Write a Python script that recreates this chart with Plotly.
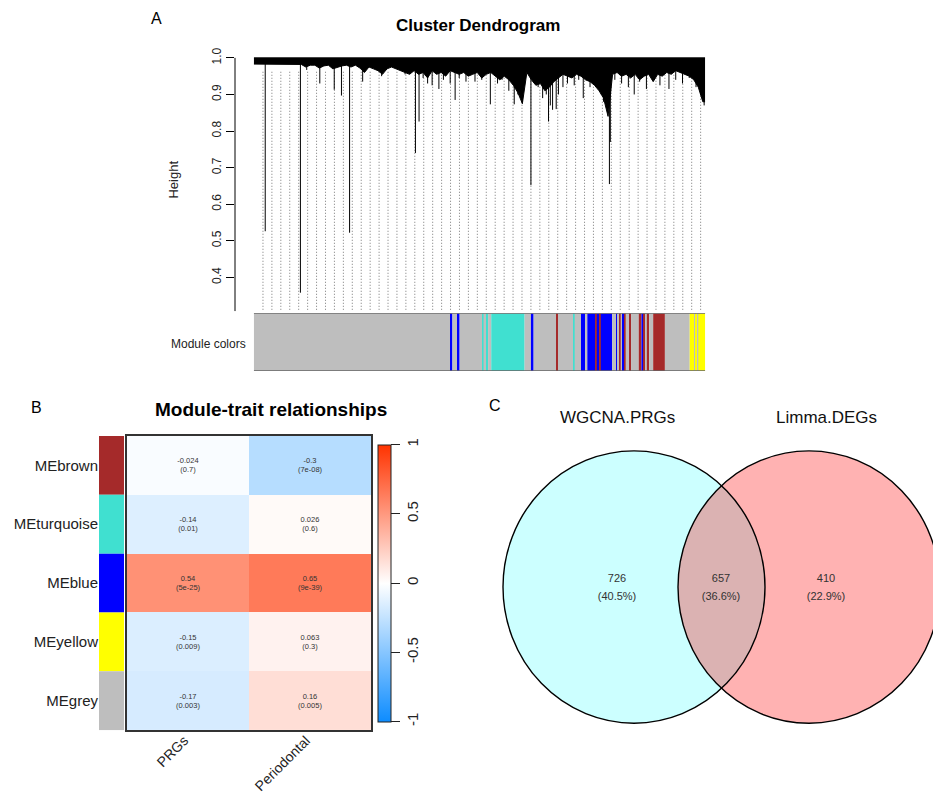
import numpy as np
import plotly.graph_objects as go

W, H = 941, 796
FONT = "Liberation Sans"

# ---------------- Panel A: cluster dendrogram ----------------
height_ticks = [0.4, 0.5, 0.6, 0.7, 0.8, 0.9, 1.0]

# lower edge of the dense merge mass, 100 equal bins along the leaf order
mass_bottom = [
    0.983, 0.983, 0.983, 0.983, 0.983, 0.983, 0.983, 0.983, 0.983, 0.983,
    0.982, 0.975, 0.980, 0.980, 0.972, 0.978, 0.980, 0.970, 0.975, 0.978,
    0.980, 0.975, 0.980, 0.972, 0.960, 0.975, 0.970, 0.965, 0.955, 0.970,
    0.975, 0.970, 0.965, 0.960, 0.955, 0.965, 0.955, 0.960, 0.945, 0.965,
    0.955, 0.960, 0.950, 0.965, 0.960, 0.955, 0.960, 0.950, 0.955, 0.960,
    0.945, 0.955, 0.960, 0.950, 0.940, 0.950, 0.940, 0.925, 0.905, 0.875,
    0.960, 0.940, 0.925, 0.930, 0.910, 0.920, 0.935, 0.945, 0.955, 0.950,
    0.945, 0.955, 0.950, 0.940, 0.935, 0.925, 0.910, 0.890, 0.840, 0.955,
    0.960, 0.950, 0.955, 0.945, 0.955, 0.940, 0.950, 0.955, 0.935, 0.955,
    0.950, 0.960, 0.955, 0.965, 0.960, 0.955, 0.950, 0.940, 0.920, 0.880,
]

# individual branches hanging below the mass: position in leaf order (0-1) and merge height
branch_pos = [0.025, 0.103, 0.117, 0.146, 0.178, 0.194, 0.212, 0.241, 0.283, 0.335,
              0.358, 0.366, 0.385, 0.410, 0.446, 0.470, 0.524, 0.550, 0.577, 0.595,
              0.614, 0.630, 0.648, 0.653, 0.662, 0.670, 0.685, 0.730, 0.770, 0.788,
              0.790, 0.830, 0.843, 0.870, 0.920, 0.980, 0.998,
              0.375, 0.395, 0.420, 0.435, 0.455, 0.490, 0.505, 0.540, 0.565, 0.585,
              0.622, 0.640, 0.657, 0.675, 0.695, 0.710, 0.720, 0.745, 0.760, 0.775,
              0.800, 0.815, 0.855, 0.885, 0.900, 0.935, 0.950, 0.965, 0.990]
branch_height = [0.526, 0.358, 0.967, 0.930, 0.913, 0.897, 0.522, 0.935, 0.950, 0.955,
                 0.740, 0.826, 0.930, 0.915, 0.885, 0.935, 0.873, 0.940, 0.873, 0.875,
                 0.652, 0.920, 0.900, 0.826, 0.858, 0.860, 0.920, 0.890, 0.900, 0.655,
                 0.770, 0.920, 0.900, 0.915, 0.915, 0.920, 0.870,
                 0.945, 0.925, 0.940, 0.930, 0.945, 0.935, 0.940, 0.930, 0.910, 0.900,
                 0.930, 0.890, 0.870, 0.900, 0.930, 0.925, 0.940, 0.920, 0.930, 0.880,
                 0.940, 0.930, 0.935, 0.940, 0.925, 0.940, 0.930, 0.945, 0.900]

# module colour strip: segment start (fraction of leaf order) and colour name
module_starts = [0.000, 0.436, 0.440, 0.452, 0.456, 0.506, 0.509, 0.516, 0.519, 0.526,
                 0.600, 0.614, 0.620, 0.671, 0.674, 0.709, 0.711, 0.725, 0.734, 0.739,
                 0.757, 0.760, 0.766, 0.769, 0.794, 0.804, 0.807, 0.811, 0.813, 0.818,
                 0.821, 0.824, 0.833, 0.836, 0.853, 0.859, 0.864, 0.868, 0.871, 0.876,
                 0.885, 0.911, 0.966, 0.976, 0.979, 0.983, 0.985]
module_seq = ["grey", "blue", "grey", "blue", "grey", "turquoise", "grey", "turquoise", "grey", "turquoise",
              "grey", "blue", "grey", "brown", "grey", "turquoise", "grey", "blue", "grey", "blue",
              "brown", "blue", "brown", "blue", "grey", "blue", "grey", "brown", "grey", "blue",
              "brown", "grey", "brown", "grey", "brown", "blue", "brown", "grey", "brown", "grey",
              "brown", "grey", "yellow", "grey", "yellow", "grey", "yellow"]

R_COLORS = {"grey": "#BEBEBE", "blue": "#0000FF", "turquoise": "#40E0D0",
            "brown": "#A52A2A", "yellow": "#FFFF00"}

# ---------------- Panel B: module-trait relationships ----------------
modules = ["MEbrown", "MEturquoise", "MEblue", "MEyellow", "MEgrey"]
module_swatch = ["brown", "turquoise", "blue", "yellow", "grey"]
traits = ["PRGs", "Periodontal"]
cor_vals = [[-0.024, -0.3],
            [-0.14, 0.026],
            [0.54, 0.65],
            [-0.15, 0.063],
            [-0.17, 0.16]]
p_vals = [[0.7, 7e-08],
          [0.01, 0.6],
          [5e-25, 9e-39],
          [0.009, 0.3],
          [0.003, 0.005]]

# ---------------- Panel C: Venn ----------------
venn_sets = ["WGCNA.PRGs", "Limma.DEGs"]
venn_counts = [726, 657, 410]   # only-left, both, only-right

# ---------------- helpers ----------------
def px(x):
    return x / W

def py(y):
    return 1 - y / H

fig = go.Figure()

XR = [-0.042, 1.042]
YR = [0.3073, 1.0218]

# dotted leaf guides
n_guides = 50
guide_x = np.arange(n_guides) * 0.0198 + 0.02
gx, gy = [], []
for g in guide_x:
    gx += [g, g, None]
    gy += [0.962, YR[0], None]
fig.add_trace(go.Scatter(x=gx, y=gy, mode="lines", xaxis="x", yaxis="y",
                         line=dict(color="#777777", width=1, dash="1px,2px"),
                         hoverinfo="skip", showlegend=False))

# branches
bx, by = [], []
for p_, h_ in zip(branch_pos, branch_height):
    bx += [p_, p_, None]
    by += [0.985, h_, None]
fig.add_trace(go.Scatter(x=bx, y=by, mode="lines", xaxis="x", yaxis="y",
                         line=dict(color="black", width=1),
                         hoverinfo="skip", showlegend=False))

# dense mass
centers_m = (np.arange(len(mass_bottom)) + 0.5) / len(mass_bottom)
mx = [0.0] + list(centers_m) + [1.0]
my = [mass_bottom[0]] + list(mass_bottom) + [mass_bottom[-1]]
fig.add_trace(go.Scatter(x=[0, 1], y=[1.0, 1.0], mode="lines", xaxis="x", yaxis="y",
                         line=dict(color="black", width=1),
                         hoverinfo="skip", showlegend=False))
fig.add_trace(go.Scatter(x=mx, y=my, mode="lines",
                         xaxis="x", yaxis="y", line=dict(color="black", width=1),
                         fill="tonexty", fillcolor="black",
                         hoverinfo="skip", showlegend=False))

# module colour strip
ends = module_starts[1:] + [1.0]
centers = [(a + b) / 2 for a, b in zip(module_starts, ends)]
widths = [b - a for a, b in zip(module_starts, ends)]
fig.add_trace(go.Bar(x=centers, y=[1] * len(centers), width=widths, base=0,
                     marker=dict(color=[R_COLORS[c] for c in module_seq], line=dict(width=0)),
                     xaxis="x4", yaxis="y4", hoverinfo="skip", showlegend=False))

# ---------------- heatmap ----------------
text = [[f"{c:g}<br>({p:g})" for c, p in zip(rc, rp)] for rc, rp in zip(cor_vals, p_vals)]
fig.add_trace(go.Heatmap(
    z=cor_vals, x=traits, y=modules, text=text, texttemplate="%{text}",
    textfont=dict(family=FONT, size=7.5, color="#333333"),
    colorscale=[[0, "#0D8CFF"], [0.5, "#FFFFFF"], [1, "#FF3300"]],
    zmin=-1, zmax=1, xaxis="x2", yaxis="y2", hoverinfo="skip",
    colorbar=dict(x=px(370), xanchor="left", y=py(574.5), yanchor="middle",
                  len=277, lenmode="pixels", thickness=13, thicknessmode="pixels",
                  outlinewidth=1, outlinecolor="#222222", xpad=0, ypad=0,
                  ticks="outside", ticklen=9, tickwidth=1, tickcolor="#222222",
                  tickvals=[-1, -0.5, 0, 0.5, 1], ticktext=["-1", "-0.5", "0", "0.5", "1"],
                  tickangle=-90, tickfont=dict(family=FONT, size=15, color="#222222")),
))

fig.add_trace(go.Bar(x=[1] * len(modules), y=modules, orientation="h", width=1,
                     marker=dict(color=[R_COLORS[c] for c in module_swatch], line=dict(width=0)),
                     xaxis="x5", yaxis="y5", hoverinfo="skip", showlegend=False))

# ---------------- Venn ----------------
total = sum(venn_counts)
venn_label_x = [609, 713, 818]
fig.add_trace(go.Scatter(
    x=venn_label_x + venn_label_x, y=[571] * 3 + [589] * 3, mode="text",
    text=[str(c) for c in venn_counts] + [f"({100 * c / total:.1f}%)" for c in venn_counts],
    textfont=dict(family=FONT, size=11, color="#333333"),
    xaxis="x6", yaxis="y6", hoverinfo="skip", showlegend=False))

shapes = []
circles = [(495, 757, 442, 715, "cyan", 0.2), (670, 932, 442, 715, "red", 0.3)]
for x0, x1, y0, y1, col, op in circles:
    shapes.append(dict(type="circle", xref="x6", yref="y6", x0=x0, x1=x1, y0=y0, y1=y1,
                       fillcolor=col, opacity=op, line=dict(width=0), layer="below"))
for x0, x1, y0, y1, col, op in circles:
    shapes.append(dict(type="circle", xref="x6", yref="y6", x0=x0, x1=x1, y0=y0, y1=y1,
                       fillcolor="rgba(0,0,0,0)", line=dict(color="black", width=1.4),
                       layer="below"))

shapes.append(dict(type="line", xref="x domain", yref="y", x0=0, x1=0, y0=YR[0], y1=1.0,
                   line=dict(color="black", width=1)))
for yy in (0, 1):
    shapes.append(dict(type="line", xref="x4", yref="y4", x0=0, x1=1, y0=yy, y1=yy,
                       line=dict(color="#666666", width=1.6)))

def ann(text, x, y, size, bold=False, angle=0, color="black"):
    return dict(text=f"<b>{text}</b>" if bold else text, x=px(x), y=py(y),
                xref="paper", yref="paper", showarrow=False, textangle=angle,
                xanchor="center", yanchor="middle",
                font=dict(family=FONT, size=size, color=color))

annotations = [
    ann("A", 148, 9, 16),
    ann("Cluster Dendrogram", 470, 16, 17, bold=True),
    ann("Height", 166, 170, 13, angle=-90, color="#222222"),
    ann("Module colors", 200, 335, 12, color="#222222"),
    ann("B", 28, 398, 16),
    ann("Module-trait relationships", 263, 401, 19, bold=True),
    ann("C", 487, 396, 16),
    ann(venn_sets[0], 609, 409, 17, color="#111111"),
    ann(venn_sets[1], 818, 409, 17, color="#111111"),
]
# rotated trait labels under the heatmap columns (end of text at the column)
for t in traits:
    annotations.append(dict(text=t, x=t, xref="x2", y=py(723), yref="paper",
                            showarrow=False, textangle=-45, xanchor="right", yanchor="top",
                            xshift=5, borderpad=0,
                            font=dict(family=FONT, size=14, color="#222222")))

hidden = dict(visible=False, showgrid=False, zeroline=False)

fig.update_layout(
    width=W, height=H, margin=dict(l=0, r=0, t=0, b=0),
    paper_bgcolor="white", plot_bgcolor="rgba(0,0,0,0)",
    showlegend=False, shapes=shapes, annotations=annotations,
    font=dict(family=FONT),
    xaxis=dict(domain=[px(227), px(716)], range=XR, **hidden),
    yaxis=dict(domain=[py(302), py(40)], range=YR, showgrid=False, zeroline=False,
               showline=False, ticks="outside", ticklen=8, tickcolor="black", tickwidth=1,
               tickvals=height_ticks, ticktext=[f"{v:.1f}" for v in height_ticks],
               tickangle=-90, tickfont=dict(family=FONT, size=12, color="#222222")),
    xaxis4=dict(domain=[px(227), px(716)], range=XR, anchor="y4", **hidden),
    yaxis4=dict(domain=[py(362), py(304)], range=[0, 1], anchor="x4", **hidden),
    xaxis2=dict(domain=[px(119), px(363)], anchor="y2", showgrid=False, zeroline=False,
                showline=True, mirror=True, linecolor="#333333", linewidth=1.5,
                showticklabels=False, ticks=""),
    yaxis2=dict(domain=[py(722), py(427)], anchor="x2", showgrid=False, zeroline=False,
                showline=True, mirror=True, linecolor="#333333", linewidth=1.5,
                showticklabels=False, ticks="", autorange="reversed"),
    xaxis5=dict(domain=[px(91), px(116)], range=[0, 1], anchor="y5", **hidden),
    yaxis5=dict(domain=[py(722), py(427)], anchor="x5", showgrid=False, zeroline=False,
                showline=False, ticks="", autorange="reversed",
                tickfont=dict(family=FONT, size=15, color="#222222")),
    xaxis6=dict(domain=[px(440), 1], range=[440, 941], anchor="y6", **hidden),
    yaxis6=dict(domain=[0, py(380)], range=[796, 380], anchor="x6", **hidden),
)

fig.write_html("out.html")
